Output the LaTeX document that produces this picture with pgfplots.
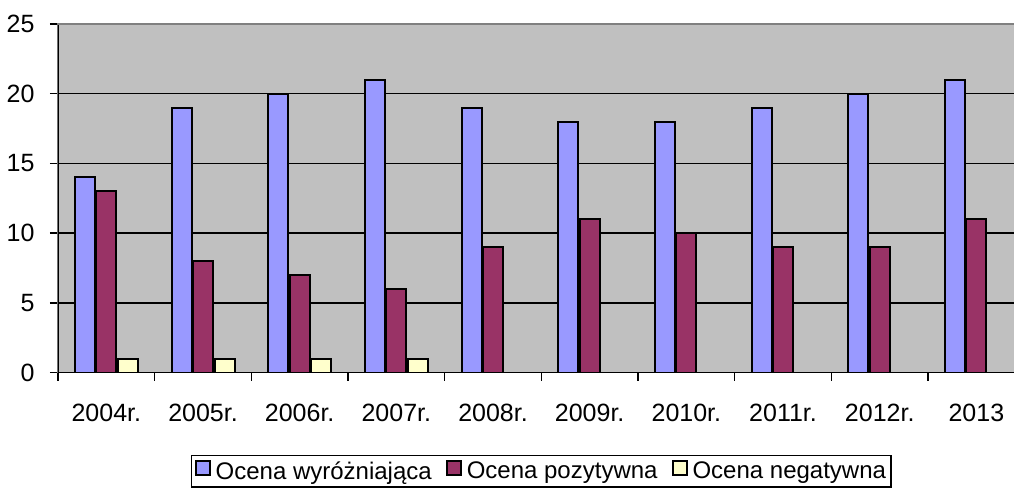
\documentclass[border=0pt]{standalone}
\usepackage{pgfplots}
\pgfplotsset{compat=1.18}
\usepackage{fontspec}
\setmainfont{Liberation Sans}
\definecolor{cblue}{HTML}{9999FF}
\definecolor{cmaroon}{HTML}{993366}
\definecolor{cyellow}{HTML}{FFFFCC}
\definecolor{cbg}{HTML}{C0C0C0}
\definecolor{cframe}{HTML}{808080}
\begin{document}
\begin{tikzpicture}
\useasboundingbox (-58pt,-119.5pt) rectangle (956pt,372.5pt);
\begin{axis}[
  at={(0pt,0pt)}, anchor=south west,
  scale only axis,
  width=966.7pt, height=348.5pt,
  xmin=-0.5, xmax=9.5, ymin=0, ymax=25,
  ybar=1.5pt, bar width=20pt,
  font=\fontsize{25}{29}\selectfont,
  /pgf/number format/assume math mode=true,
  xtick={-0.5,0.5,...,9.5},
  x tick label as interval,
  xticklabels={2004r.,2005r.,2006r.,2007r.,2008r.,2009r.,2010r.,2011r.,2012r.,2013},
  xticklabel style={yshift=-20pt},
  ytick={0,5,10,15,20,25},
  yticklabel style={xshift=-12pt},
  xtick pos=bottom, ytick pos=left,
  tick align=outside,
  major tick length=8pt,
  tick style={black, line width=1.5pt},
  ymajorgrids,
  grid style={black, line width=1.5pt},
  axis line style={cframe, line width=1.5pt},
  axis background/.style={fill=cbg},
  legend columns=-1,
  legend style={at={(0.5,-0.2367)}, anchor=north, draw=black, line width=1.5pt,
    font=\fontsize{24}{28}\selectfont, inner xsep=3pt, inner ysep=4pt,
    /tikz/every odd column/.append style={column sep=3pt},
    /tikz/every even column/.append style={column sep=12pt}},
  legend image code/.code={\draw[#1, line width=2pt] (0pt,-4pt) rectangle (14pt,10pt);},
]
\addplot[fill=cblue, draw=black, line width=2pt] coordinates {(0,14) (1,19) (2,20) (3,21) (4,19) (5,18) (6,18) (7,19) (8,20) (9,21)};
\addplot[fill=cmaroon, draw=black, line width=2pt] coordinates {(0,13) (1,8) (2,7) (3,6) (4,9) (5,11) (6,10) (7,9) (8,9) (9,11)};
\addplot[fill=cyellow, draw=black, line width=2pt] coordinates {(0,1) (1,1) (2,1) (3,1) (4,0) (5,0) (6,0) (7,0) (8,0) (9,0)};
\legend{Ocena wyróżniająca,Ocena pozytywna,Ocena negatywna}
\draw[black, line width=1.5pt] (rel axis cs:0,0) -- (rel axis cs:0,1);
\draw[black, line width=1.5pt] (rel axis cs:0,0) -- (rel axis cs:1,0);
\draw[cframe, line width=1.5pt] (rel axis cs:0,1) -- (rel axis cs:1,1);
\end{axis}
\end{tikzpicture}
\end{document}
